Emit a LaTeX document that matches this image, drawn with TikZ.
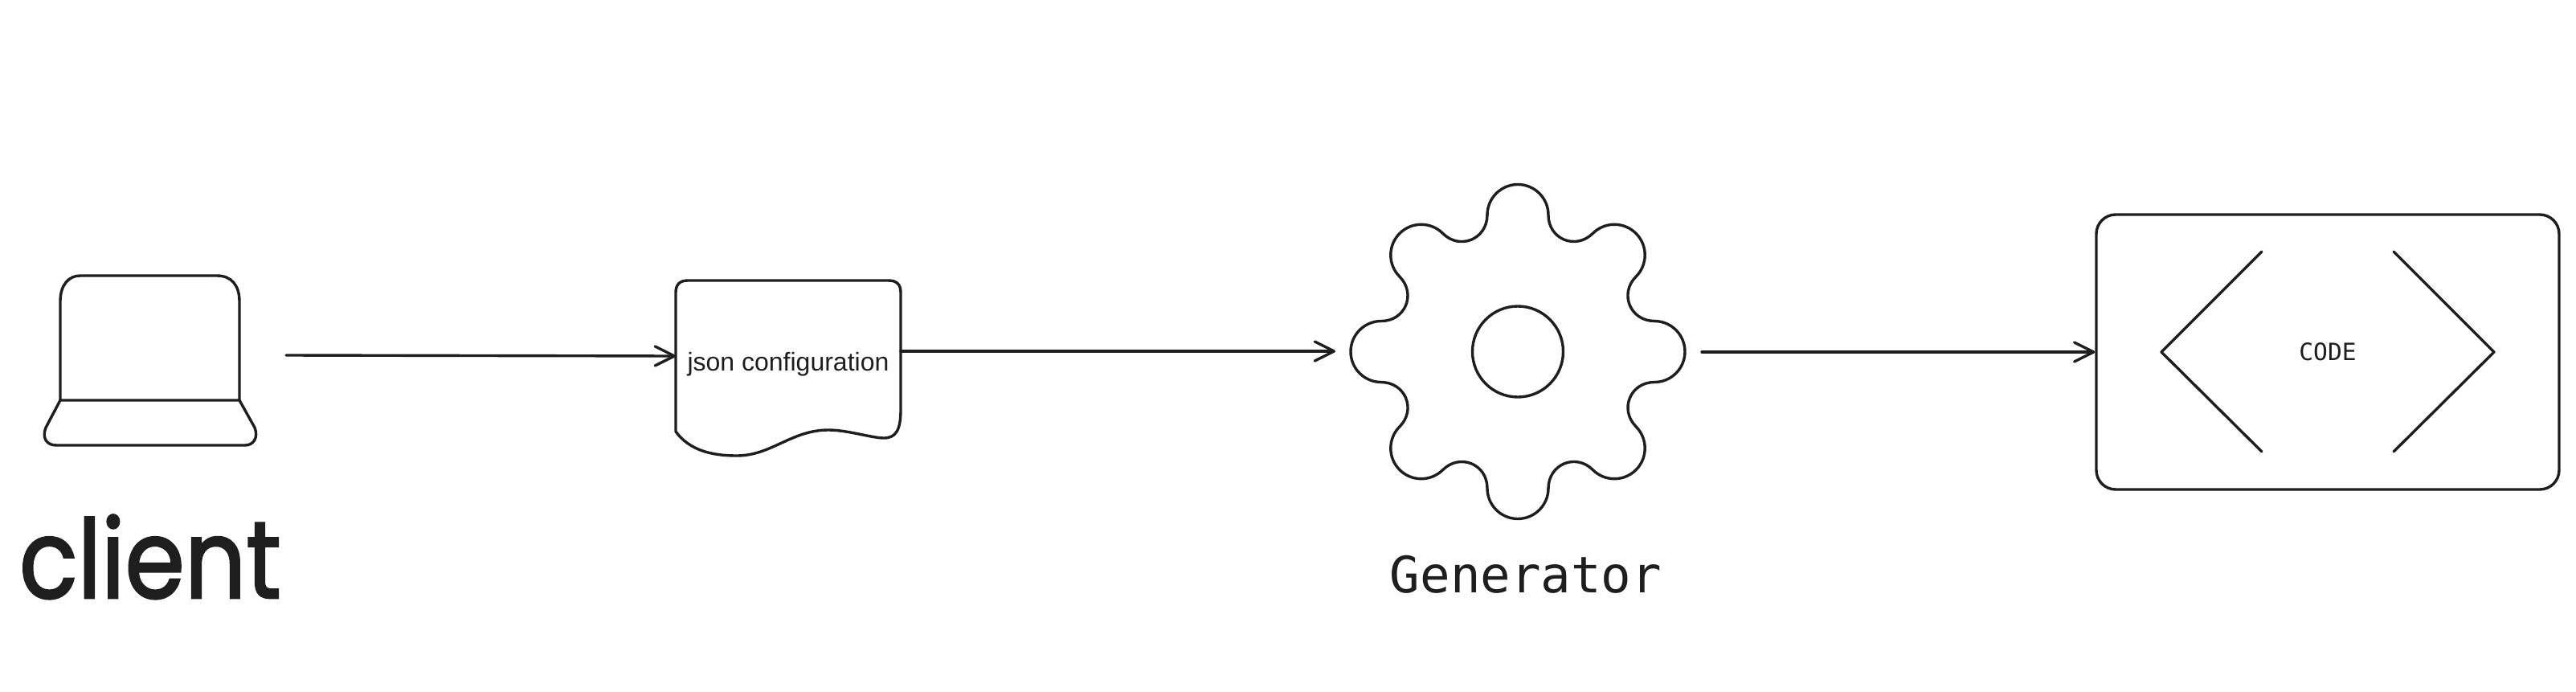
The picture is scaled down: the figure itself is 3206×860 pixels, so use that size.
\documentclass[tikz,border=0pt]{standalone}
\usepackage{fontspec}
\setmainfont{Liberation Sans}
\newfontfamily\labelfont{DejaVu Sans Mono}
\newfontfamily\clientfont[FakeBold=2]{Poppins}
\usetikzlibrary{arrows.meta}
\definecolor{inkcol}{HTML}{1E1E1E}
\tikzset{
  sketch/.style={draw=inkcol,line width=0.85pt,line cap=round,line join=round},
  link/.style={sketch,-{Straight Barb[length=6pt,width=6pt,round]}},
  gearlabel/.style={text=inkcol,font=\labelfont\fontsize{15.6}{17}\selectfont,anchor=base},
}
\newcommand{\drawgear}[3]{
\pgfmathsetmacro{\lobe}{#3}
\foreach \i in {0,1,...,7} {
  \begin{scope}[shift={(#1,#2)},rotate=-45*\i]
    \draw[sketch] (-\lobe,170) arc (180:0:\lobe)
      .. controls +(0,-30) and (72,126) .. (93.3,147.1);
  \end{scope}
}
}
\begin{document}
\begin{tikzpicture}[x=0.25pt,y=0.25pt]
\useasboundingbox (0,0) rectangle (3206,860);
% laptop
\draw[sketch] (75,362) -- (75,485) .. controls (75,505) and (85,517) .. (100,517) -- (270,517) .. controls (288,517) and (298,505) .. (298,485) -- (298,362) -- cycle;
\draw[sketch] (75,362) -- (57,328) .. controls (52,315) and (58,306) .. (70,306) -- (305,306) .. controls (315,306) and (322,315) .. (317,328) -- (298,362);
\node[text=inkcol,font=\clientfont\fontsize{34}{36}\selectfont,anchor=base,xscale=0.88,transform shape] (client) at (187,116) {client};
% document
\draw[sketch] (841,323) -- (841,496) .. controls (841,506) and (846,511) .. (856,511) -- (1106,511) .. controls (1116,511) and (1121,506) .. (1121,496) -- (1121,350)
  .. controls (1121,325) and (1115,315) .. (1100,315) .. controls (1085,315) and (1055,325) .. (1031,325)
  .. controls (985,325) and (960,293) .. (917,293) .. controls (885,293) and (858,300) .. (841,323);
\node[text=inkcol,font=\fontsize{8}{9}\selectfont] (doc) at (981,407) {json configuration};
% generator
\drawgear{1889}{422.5}{38}
\draw[sketch] (1889,422.5) circle (56.5);
\node[gearlabel] (generator) at (1899,123) {Generator};
% code
\node[sketch,rounded corners=6pt,minimum width=144pt,minimum height=85.5pt,inner sep=0pt,text=inkcol,font=\labelfont\fontsize{7.4}{9}\selectfont] (codebox) at (2897,422) {CODE};
\draw[sketch] (2815,547) -- (2690,422) -- (2815,298);
\draw[sketch] (2979,547) -- (3104,422) -- (2979,298);
% links
\coordinate (clientout) at (356,418);
\coordinate (docin) at (841,417);
\coordinate (docout) at (1121,423);
\coordinate (gearin) at (1662,423);
\coordinate (gearout) at (2118,422);
\draw[link] (clientout) -- (docin);
\draw[link] (docout) -- (gearin);
\draw[link] (gearout) -- (codebox.west);
\end{tikzpicture}
\end{document}
